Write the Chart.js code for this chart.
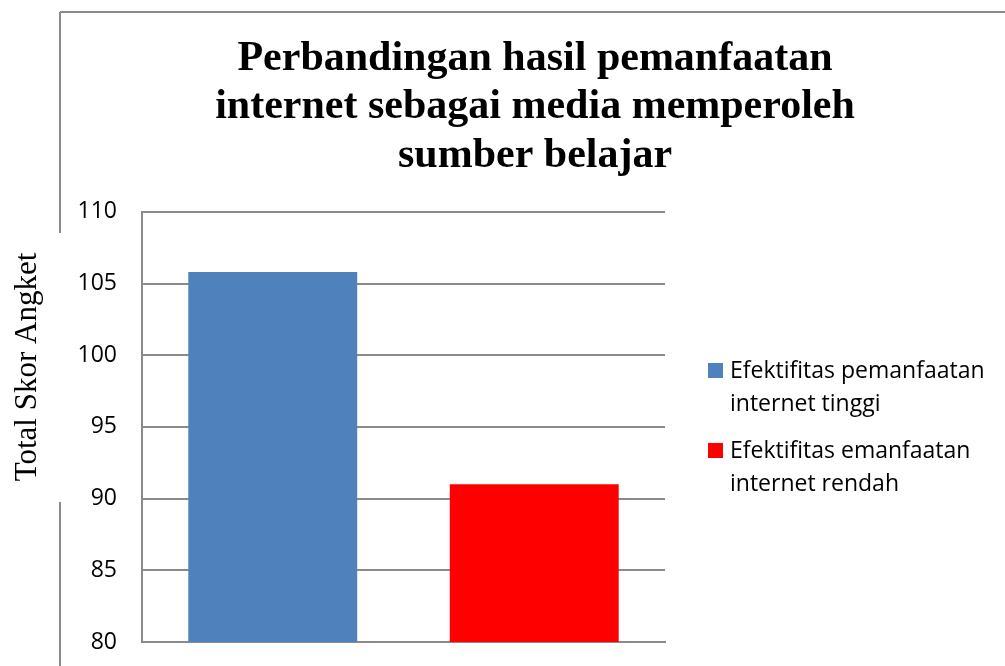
<!DOCTYPE html>
<html>
<head>
<meta charset="utf-8">
<script src="https://cdn.jsdelivr.net/npm/chart.js@4/dist/chart.umd.min.js"></script>
<style>
  html, body { margin: 0; padding: 0; background: #ffffff; overflow: hidden; }
  #wrap { width: 1070px; height: 666px; position: relative; }
</style>
</head>
<body>
<div id="wrap"><canvas id="c" width="1070" height="666"></canvas></div>
<script>
// ---- data ----
const categories = [''];
const seriesNames = ['Efektifitas pemanfaatan internet tinggi', 'Efektifitas emanfaatan internet rendah'];
const seriesValues = [105.8, 91];
const seriesColors = ['#4F81BD', '#FF0000'];
const titleLines = ['Perbandingan hasil pemanfaatan', 'internet sebagai media memperoleh', 'sumber belajar'];
const yAxisTitle = 'Total Skor Angket';
const yMin = 80, yMax = 110, yStep = 5;

const GRID = '#8a8a8a';

// frame plugin (outer chart border, partly hidden behind the axis title)
const framePlugin = {
  id: 'frame',
  beforeDraw(chart) {
    const ctx = chart.ctx;
    ctx.save();
    ctx.strokeStyle = GRID;
    ctx.lineWidth = 2;
    ctx.beginPath();
    ctx.moveTo(60, 12); ctx.lineTo(1070, 12);
    ctx.moveTo(60, 12); ctx.lineTo(60, 233);
    ctx.moveTo(60, 502); ctx.lineTo(60, 666);
    ctx.stroke();
    ctx.restore();
  }
};

// y axis title plugin
const yTitlePlugin = {
  id: 'yTitle',
  afterDraw(chart) {
    const ctx = chart.ctx;
    ctx.save();
    ctx.translate(28, 367);
    ctx.rotate(-Math.PI / 2);
    ctx.font = '31px "Liberation Serif", "Times New Roman", serif';
    ctx.fillStyle = '#000';
    ctx.textAlign = 'center';
    ctx.textBaseline = 'middle';
    ctx.fillText(yAxisTitle, 0, 0);
    ctx.restore();
  }
};

// custom legend plugin (wrapped labels, right side)
function wrapText(ctx, text, maxW) {
  const words = text.split(' ');
  const lines = [];
  let cur = '';
  for (const w of words) {
    const t = cur ? cur + ' ' + w : w;
    if (ctx.measureText(t).width > maxW && cur) { lines.push(cur); cur = w; }
    else cur = t;
  }
  if (cur) lines.push(cur);
  return lines;
}
const legendPlugin = {
  id: 'sideLegend',
  afterDraw(chart) {
    const ctx = chart.ctx;
    ctx.save();
    ctx.font = '23px "Open Sans", sans-serif';
    ctx.textBaseline = 'alphabetic';
    ctx.textAlign = 'left';
    let baseY = 378;
    const lineH = 32.5;
    chart.data.datasets.forEach((ds) => {
      ctx.fillStyle = ds.backgroundColor;
      ctx.fillRect(708, baseY - 15, 15, 15);
      ctx.fillStyle = '#000';
      const lines = wrapText(ctx, ds.label, 270);
      lines.forEach((ln, i) => ctx.fillText(ln, 730, baseY + i * lineH));
      baseY += lines.length * lineH + 15;
    });
    ctx.restore();
  }
};

const ctx = document.getElementById('c').getContext('2d');
new Chart(ctx, {
  type: 'bar',
  data: {
    labels: categories,
    datasets: seriesNames.map((name, i) => ({
      label: name,
      data: [seriesValues[i]],
      backgroundColor: seriesColors[i],
      borderWidth: 0,
      barPercentage: 0.646,
      categoryPercentage: 1.0
    }))
  },
  options: {
    responsive: false,
    animation: false,
    devicePixelRatio: 1,
    layout: { padding: { left: 0, right: 0, top: 0, bottom: 24 } },
    plugins: {
      legend: { display: false },
      tooltip: { enabled: false },
      title: {
        display: true,
        text: titleLines,
        color: '#000',
        font: { family: '"Liberation Serif", "Times New Roman", serif', size: 42, weight: 'bold', lineHeight: 1.15 },
        padding: { top: 35, bottom: 32 }
      }
    },
    scales: {
      x: {
        afterFit(scale) { scale.height = 0; },
        grid: { display: false, drawTicks: false },
        border: { display: true, color: GRID, width: 2 },
        ticks: { display: false }
      },
      y: {
        min: yMin, max: yMax,
        afterFit(scale) { scale.width = 142; scale.paddingBottom = 0; scale.paddingTop = 0; },
        grid: { color: GRID, lineWidth: 2, drawTicks: false },
        border: { display: true, color: GRID, width: 2 },
        ticks: {
          stepSize: yStep,
          padding: 25,
          color: '#000',
          font: { family: '"Open Sans", sans-serif', size: 23 }
        }
      },
      legendSpace: {
        position: 'right',
        type: 'linear',
        afterFit(scale) { scale.width = 405; scale.paddingBottom = 0; scale.paddingTop = 0; },
        grid: { display: false, drawTicks: false },
        border: { display: false },
        ticks: { display: false }
      }
    }
  },
  plugins: [framePlugin, yTitlePlugin, legendPlugin]
});
</script>
</body>
</html>
